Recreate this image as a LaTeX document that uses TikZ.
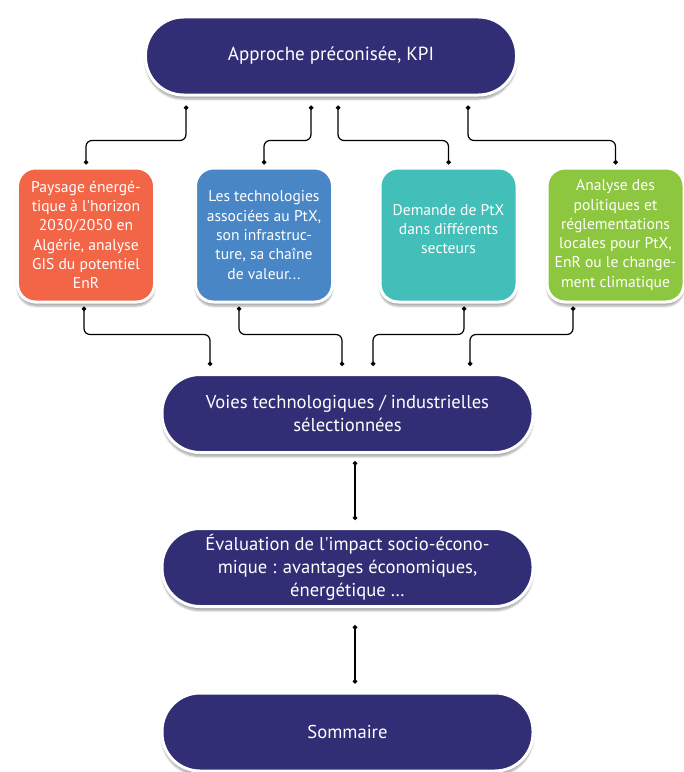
\documentclass[tikz,border=0pt]{standalone}
\usepackage{fontspec}
\setmainfont{PT Sans}
\usetikzlibrary{arrows.meta,shadows.blur}
\definecolor{navy}{RGB}{50,46,118}
\definecolor{orangeR}{RGB}{242,101,70}
\definecolor{blueM}{RGB}{73,134,197}
\definecolor{tealM}{RGB}{65,191,184}
\definecolor{greenM}{RGB}{141,198,63}
\begin{document}
\begin{tikzpicture}[x=1bp,y=-1bp,
    pill/.style={rectangle,rounded corners=38bp,fill=navy,draw=white,line width=3bp,
      minimum width=371bp,minimum height=78bp,text=white,align=center,
      font=\fontsize{18.6bp}{23bp}\selectfont,
      blur shadow={shadow xshift=0bp,shadow yshift=-4bp,shadow blur steps=6,shadow opacity=35}},
    topic/.style={rectangle,rounded corners=18bp,fill=#1,draw=white,line width=3bp,
      minimum width=137bp,minimum height=134bp,text=white,align=center,
      font=\fontsize{15.6bp}{19.3bp}\selectfont,
      blur shadow={shadow xshift=0bp,shadow yshift=-4bp,shadow blur steps=6,shadow opacity=35}},
    link/.style={line width=1.2bp,black,rounded corners=6bp,
      {Circle[length=4.5bp]}-{Circle[length=4.5bp]}}]
  \useasboundingbox (0,0) rectangle (684,772);
  % main steps
  \node[pill,font=\fontsize{19bp}{23bp}\selectfont] (kpi) at (331,56) {Approche préconisée, KPI};
  \node[pill] (voies) at (347.5,413.5) {Voies technologiques / industrielles\\sélectionnées};
  \node[pill] (eval) at (347.5,567.5) {Évaluation de l\textquotesingle impact socio-écono-\\mique : avantages économiques,\\énergétique \dots};
  \node[pill] (somm) at (347.5,732) {Sommaire};
  % the four topics
  \node[topic=orangeR] (paysage) at (86,235) {Paysage énergé-\\tique à l\textquotesingle horizon\\2030/2050 en\\Algérie, analyse\\GIS du potentiel\\EnR};
  \node[topic=blueM] (techno) at (264,235) {Les technologies\\associées au PtX,\\son infrastruc-\\ture, sa chaîne\\de valeur...};
  \node[topic=tealM] (demande) at (448.5,235) {Demande de PtX\\dans différents\\secteurs\\[-7bp]\mbox{}};
  \node[topic=greenM] (politique) at (615.5,235) {Analyse des\\politiques et\\réglementations\\locales pour PtX,\\EnR ou le change-\\ment climatique};
  % connectors
  \draw[link] ([shift={(-145,9)}]kpi.south) -- ++(0,35) -| ([yshift=2bp]paysage.north);
  \draw[link] ([shift={(-20,9)}]kpi.south) -- ++(0,35) -| ([yshift=2bp]techno.north);
  \draw[link] ([shift={(7,9)}]kpi.south) -- ++(0,35) -| ([yshift=2bp]demande.north);
  \draw[link] ([shift={(137,9)}]kpi.south) -- ++(0,35) -| ([yshift=2bp]politique.north);
  \draw[link] ([shift={(-2,3)}]paysage.south) -- ++(0,28) -| ([shift={(-137.5,-7)}]voies.north);
  \draw[link] ([shift={(-25,3)}]techno.south) -- ++(0,28) -| ([shift={(-5.5,-7)}]voies.north);
  \draw[link] ([shift={(15.5,3)}]demande.south) -- ++(0,28) -| ([shift={(25.5,-7)}]voies.north);
  \draw[link] ([shift={(-42.5,3)}]politique.south) -- ++(0,28) -| ([shift={(122.5,-7)}]voies.north);
  \draw[link] ([shift={(7.5,7)}]voies.south) -- ([shift={(7.5,-7)}]eval.north);
  \draw[link] ([shift={(7.5,17)}]eval.south) -- ([shift={(7.5,-8)}]somm.north);
\end{tikzpicture}
\end{document}
